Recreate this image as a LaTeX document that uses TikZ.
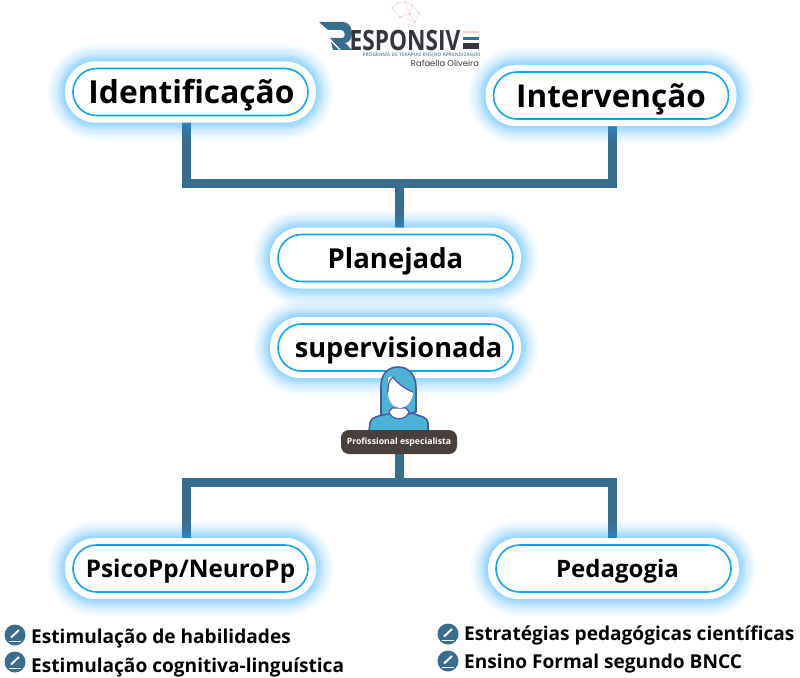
\documentclass[tikz,border=0pt]{standalone}
\usepackage{fontspec}
\setmainfont{Open Sans}
\newfontfamily\logofont[FakeStretch=0.81]{Open Sans}
\newfontfamily\signfont{Poppins}
\usetikzlibrary{shapes.misc,backgrounds,calc}

\definecolor{linkblue}{HTML}{376E8F}
\definecolor{glowblue}{HTML}{1FA8FF}
\definecolor{pillblue}{HTML}{0DA5F5}
\definecolor{badgebrown}{HTML}{4A403B}
\definecolor{hairblue}{HTML}{4BB3D6}
\definecolor{inkviolet}{HTML}{4A5A9F}
\definecolor{logodark}{HTML}{33373D}

\tikzset{
  pill/.style={rounded rectangle,draw=pillblue,line width=1.6pt,fill=white,inner sep=0pt,
    minimum width=235pt,minimum height=47pt,font=\bfseries},
  link/.style={linkblue,line width=9pt},
  bullettext/.style={anchor=west,inner sep=0pt,font=\bfseries\fontsize{19.1}{20}\selectfont},
  penicon/.style={circle,fill=linkblue,minimum size=21pt,inner sep=0pt}
}

% white pill with its glow, then the blue pill on top
\newcommand{\glowpill}[5]{%
  \foreach \g in {1,2,3,4,5,6,7,8,10,12,14,17}{
    \fill[glowblue,opacity=.052,rounded corners={(30+\g)*1pt}]
      ({#2-125.5-\g},{#3-30.5-\g}) rectangle ({#2+125.5+\g},{#3+30.5+\g});
  }
  \fill[white,rounded corners=30pt] ({#2-125.5},{#3-30.5}) rectangle ({#2+125.5},{#3+30.5});
  \node[pill] (#1) at (#2,#3) {\fontsize{#4}{#4}\selectfont\raisebox{-.37em}[0pt][0pt]{#5}};
}

\newcommand{\pencilmark}[3]{%
  \node[penicon] (#1) at (#2,#3) {};
  \draw[white,line width=2pt] ({#2-4},{#3+2.5}) -- ({#2+4},{#3-5});
  \draw[white,line width=.9pt] ({#2-6},{#3+6}) -- ({#2+6},{#3+6});
}

\begin{document}
\begin{tikzpicture}[x=1pt,y=-1pt]
\useasboundingbox (0,0) rectangle (800,677);

% logo
\draw[red!25,line width=.3pt] (392,8) -- (398,3) -- (405,2) -- (412,5) -- (419,13) -- (415,22) -- (410,14) -- (400,17) -- (392,8)
  (405,2) -- (410,14) -- (412,5) (415,22) -- (412,26) (400,17) -- (415,22);
\foreach \a/\b in {392/8,398/3,405/2,412/5,410/14,419/13,415/22,400/17,412/26}{
  \fill[linkblue!60] (\a,\b) circle (.7pt);
}
\fill[linkblue] (319,22) -- (343,22) .. controls (354,22) and (355,42) .. (345,43)
  -- (352,50) -- (341,50) -- (330,38) -- (343,38) .. controls (346,36) and (345,30) .. (341,30) -- (328,30) -- cycle;
\fill[linkblue] (331,42) -- (339,50) -- (333,50) -- cycle;
\node[inner sep=0pt,text=logodark] (logotext) at (405,40)
  {\logofont\bfseries\fontsize{28}{28}\selectfont\raisebox{-.36em}[0pt][0pt]{ESPONSIV}};
\fill[red!20] (463,31) rectangle (479,33);
\fill[linkblue] (463,37) rectangle (479,40);
\fill[logodark] (463,43) rectangle (479,49);
\node[inner sep=0pt,text=linkblue!70] (logosub) at (421.5,55)
  {\bfseries\fontsize{4.8}{4.8}\selectfont\raisebox{-.36em}[0pt][0pt]{PROGRAMA DE TERAPIAS ENSINO APRENDIZAGEM}};
\node[inner sep=0pt,text=logodark] (logosign) at (445,63.5)
  {\signfont\fontsize{8.4}{8.4}\selectfont\raisebox{-.36em}[.2em][.1em]{Rafaella Oliveira}};

% the boxes
\glowpill{ident}{190.5}{92}{31.7}{\hspace{2pt}Identificação}
\glowpill{interv}{611}{95.5}{31.5}{Intervenção}
\glowpill{plan}{395.5}{258}{27.5}{Planejada}
\glowpill{superv}{395.5}{347.5}{27.2}{\hspace{6pt}supervisionada}
\glowpill{psico}{190.5}{568.5}{24.3}{PsicoPp/NeuroPp}
\glowpill{pedag}{613.5}{568.5}{24}{\hspace{8pt}Pedagogia}

% the specialist
\fill[hairblue,draw=inkviolet,line width=1.6pt,line join=round]
  (369,431) -- (370,423) .. controls (371,419) and (373,418) .. (376,417) -- (390,412)
  -- (409,412) -- (423,417) .. controls (426,418) and (428,420) .. (428,423) -- (428,431) -- cycle;
\fill[hairblue,draw=inkviolet,line width=1.6pt,line join=round]
  (381,415) -- (381,386) .. controls (381,373) and (389,367) .. (398,367)
  .. controls (409,367) and (416,375) .. (416,388) -- (416,412) -- (408,414) -- (390,414) -- cycle;
\fill[white,draw=inkviolet,line width=1.2pt]
  (389,412) .. controls (392,421) and (406,421) .. (409,412) -- (406,408) -- (392,408) -- cycle;
\fill[white] (388,378) .. controls (393,376) and (392,376) .. (393,377)
  .. controls (398,384) and (405,389) .. (413,392)
  .. controls (413,401) and (406,408) .. (400,408)
  .. controls (394,408) and (388,402) .. (388,392) -- cycle;
\draw[inkviolet,line width=1.2pt] (388,392) .. controls (388,384) and (389,380) .. (393,377)
  .. controls (398,384) and (405,389) .. (413,392);
\node[rounded corners=8pt,fill=badgebrown,text=white,inner sep=0pt,minimum width=116pt,minimum height=24pt,
  font=\bfseries\fontsize{8.7}{10}\selectfont] (badge) at (399,442) {Profissional especialista};

% the lists
\pencilmark{dotA}{15}{635}
\pencilmark{dotB}{15}{662}
\pencilmark{dotC}{448}{634}
\pencilmark{dotD}{448}{661}
\node[bullettext] (listA) at (31,639) {Estimulação de habilidades};
\node[bullettext] (listB) at (31,667) {Estimulação cognitiva-linguística};
\node[bullettext] (listC) at (464,635) {Estratégias pedagógicas científicas};
\node[bullettext] (listD) at (464,664) {Ensino Formal segundo BNCC};

% the connectors stay behind everything
\begin{scope}[on background layer]
\coordinate (upjoin) at (399,183);
\coordinate (lowjoin) at (399,482);
\draw[link] ([xshift=-4pt]ident.south) |- (upjoin) -| ([xshift=1.5pt]interv.south);
\draw[link] (upjoin) -- (upjoin |- plan.north);
\draw[link] (badge.south -| lowjoin) -- (lowjoin);
\draw[link] ([xshift=-4pt]psico.north) |- (lowjoin) -| ([xshift=-1pt]pedag.north);
\end{scope}
\end{tikzpicture}
\end{document}
